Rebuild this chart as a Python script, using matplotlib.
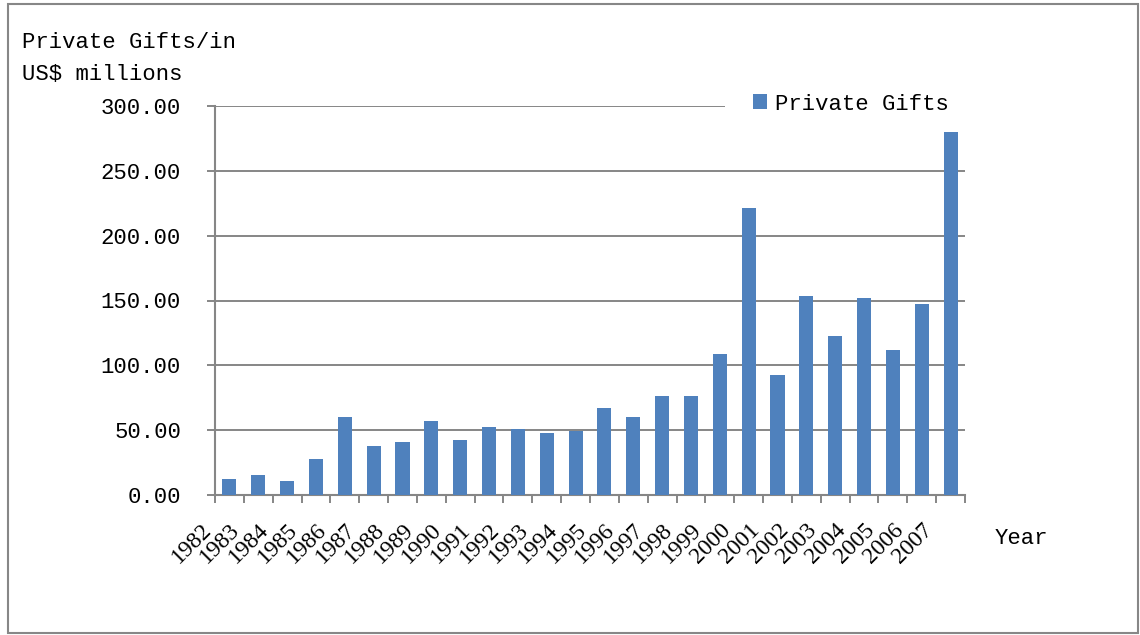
import matplotlib
matplotlib.use("Agg")
import matplotlib.pyplot as plt
import matplotlib.transforms as mtransforms
from matplotlib.patches import Rectangle, Patch

years = [str(y) for y in range(1982, 2008)]
gifts = [12.3, 15.4, 10.8, 27.8, 60.2, 37.8, 40.9, 57.1, 42.4, 52.4, 50.9, 47.8, 49.6,
         67.1, 60.2, 76.3, 76.3, 108.7, 221.3, 92.5, 153.5, 122.6, 151.9, 111.8, 147.3, 280.0]
yticks = [0, 50, 100, 150, 200, 250, 300]
ytick_labels = ["%.2f" % v for v in yticks]
series_name = "Private Gifts"

W, H = 1140, 635
fig = plt.figure(figsize=(W / 100, H / 100), dpi=100)
fig.patch.set_facecolor("white")

mono = "Liberation Mono"
serif = "Liberation Serif"
gray = "#868686"
blue = "#4F81BD"

ax = fig.add_axes([215 / W, 1 - 495 / H, 750 / W, (495 - 106) / H])
x = list(range(len(years)))
ax.bar(x, gifts, width=0.49, color=blue, zorder=3)
ax.set_xlim(-0.5, len(years) - 0.5)
ax.set_ylim(0, 300)

ax.set_yticks(yticks)
ax.set_yticklabels(ytick_labels, fontfamily=mono, fontsize=16)
ax.yaxis.grid(True, color=gray, linewidth=1.4, zorder=0)
ax.set_axisbelow(True)
ax.tick_params(axis="y", direction="out", length=6, width=1.4, color=gray, pad=18.5)

ax.set_xticks(x)
ax.set_xticklabels(years, fontfamily=serif, fontsize=17, rotation=45, ha="right", va="top")
ax.set_xticks([i - 0.5 for i in range(len(years) + 1)], minor=True)
ax.tick_params(axis="x", which="major", length=0, pad=0)
ax.tick_params(axis="x", which="minor", direction="out", length=6, width=1.4, color=gray)
offset = mtransforms.ScaledTranslation(-0.14, -0.24, fig.dpi_scale_trans)
for lab in ax.get_xticklabels():
    lab.set_transform(lab.get_transform() + offset)

for s in ["top", "right"]:
    ax.spines[s].set_visible(False)
for s in ["left", "bottom"]:
    ax.spines[s].set_color(gray)
    ax.spines[s].set_linewidth(1.5)

# white legend background covering the top gridline behind the legend
ax.add_patch(Rectangle((725 / W, 1 - 114 / H), (967 - 725) / W, 18 / H,
                       transform=fig.transFigure, facecolor="white",
                       edgecolor="none", zorder=1, clip_on=False))

leg = ax.legend(handles=[Patch(facecolor=blue, label=series_name)],
                loc="center left", bbox_to_anchor=(753 / W, 1 - 104 / H),
                bbox_transform=fig.transFigure, frameon=False,
                prop={"family": mono, "size": 16}, handlelength=0.63,
                handleheight=0.63, handletextpad=0.36, borderpad=0,
                borderaxespad=0)
leg.set_zorder(5)

fig.text(22 / W, 1 - 43 / H, "Private Gifts/in", fontfamily=mono, fontsize=16,
         ha="left", va="center")
fig.text(22 / W, 1 - 74 / H, "US$ millions", fontfamily=mono, fontsize=16,
         ha="left", va="center")
fig.text(995 / W, 1 - 539 / H, "Year", fontfamily=mono, fontsize=16,
         ha="left", va="center")

fig.patches.append(Rectangle((8 / W, 1 - 633 / H), (1138 - 8) / W, (633 - 4) / H,
                             transform=fig.transFigure, fill=False,
                             edgecolor="#878787", linewidth=1.5))

fig.savefig("out.png", dpi=100, facecolor="white")
